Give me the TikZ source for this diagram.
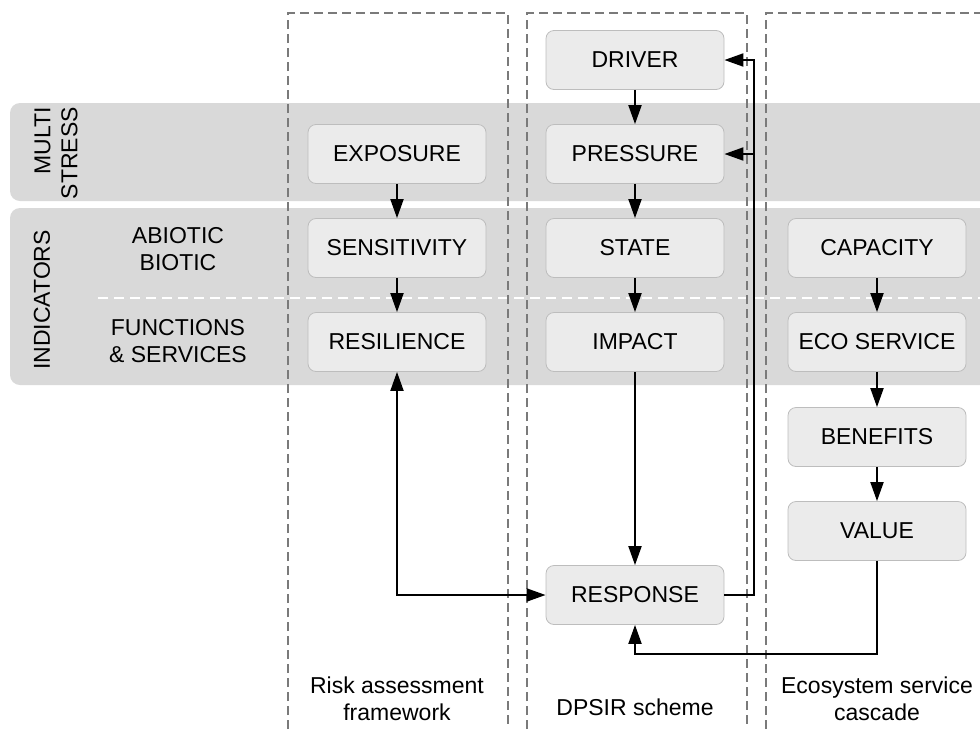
\documentclass[tikz,border=0pt]{standalone}
\usepackage{fontspec}
\setmainfont{Liberation Sans}
\usetikzlibrary{arrows.meta}
\definecolor{bandgray}{HTML}{D9D9D9}
\definecolor{boxgray}{HTML}{EBEBEB}
\definecolor{boxline}{HTML}{BDBDBD}
\definecolor{framegray}{HTML}{7A7A7A}
\begin{document}
\begin{tikzpicture}[x=0.5pt,y=-0.5pt,
    every node/.style={font=\fontsize{11.5}{13.5}\selectfont},
    stagebox/.style={draw=boxline,fill=boxgray,rounded corners=4pt,line width=0.4pt,
        minimum width=89pt,minimum height=29.5pt,inner sep=0pt},
    flow/.style={line width=1pt,-{Triangle[length=9.5pt,width=6.5pt]}},
    frame/.style={draw=framegray,line width=0.6pt,dash pattern=on 4.5pt off 2.5pt},
    band/.style={fill=bandgray,rounded corners=5pt}]
                    \useasboundingbox (0,0) rectangle (980,729);
                    % grey bands
                    \fill [band] (985,103)--(10,103)--(10,201)--(985,201);
                    \fill [band] (985,208)--(10,208)--(10,385)--(985,385);
                    \draw [white,line width=0.8pt,dash pattern=on 5pt off 3pt] (98,298)--(980,298);
                    % column frames
                    \draw [frame] (288,729)--(288,13)--(508,13)--(508,729);
                    \draw [frame] (527,729)--(527,13)--(747,13)--(747,729);
                    \draw [frame] (766,729)--(766,13)--(980,13);
                    % row labels
                    \node (multi) [rotate=90,align=right] at (56,153) {MULTI\\STRESS};
                    \node (indic) [rotate=90] at (42,300) {INDICATORS};
                    \node (abiotic) [align=center] at (178,249) {ABIOTIC\\BIOTIC};
                    \node (funct) [align=center] at (178,341) {FUNCTIONS\\\& SERVICES};
                    % risk assessment
                    \node (exposure) [stagebox] at (397,154) {EXPOSURE};
                    \node (sensitivity) [stagebox] at (397,248) {SENSITIVITY};
                    \node (resilience) [stagebox] at (397,342) {RESILIENCE};
                    % DPSIR
                    \node (driver) [stagebox] at (635,60) {DRIVER};
                    \node (pressure) [stagebox] at (635,154) {PRESSURE};
                    \node (state) [stagebox] at (635,248) {STATE};
                    \node (impact) [stagebox] at (635,342) {IMPACT};
                    \node (response) [stagebox] at (635,595) {RESPONSE};
                    % ecosystem cascade
                    \node (capacity) [stagebox] at (877,248) {CAPACITY};
                    \node (ecoserv) [stagebox] at (877,342) {ECO SERVICE};
                    \node (benefits) [stagebox] at (877,437) {BENEFITS};
                    \node (value) [stagebox] at (877,531) {VALUE};
                    % column captions
                    \node (riskcap) [align=center] at (397,699) {Risk assessment\\framework};
                    \node (dpsircap) at (635,707) {DPSIR scheme};
                    \node (ecocap) [align=center] at (877,699) {Ecosystem service\\cascade};
                    % arrows
                    \draw [flow] (exposure)--(sensitivity);
                    \draw [flow] (sensitivity)--(resilience);
                    \draw [flow] (driver)--(pressure);
                    \draw [flow] (pressure)--(state);
                    \draw [flow] (state)--(impact);
                    \draw [flow] (impact)--(response);
                    \draw [flow] (capacity)--(ecoserv);
                    \draw [flow] (ecoserv)--(benefits);
                    \draw [flow] (benefits)--(value);
                    \coordinate (fbtop) at (754,60);
                    \coordinate (fbbot) at (754,595);
                    \coordinate (fbmid) at (754,154);
                    \draw [flow] (response.east)--(fbbot)--(fbtop)--(driver.east);
                    \draw [flow] (fbmid)--(pressure.east);
                    \draw [flow] (value.south)--++(0,93)-|(response.south);
                    \draw [flow,{Triangle[length=9.5pt,width=6.5pt]}-{Triangle[length=9.5pt,width=6.5pt]}] (resilience.south)|-(response.west);
                \end{tikzpicture}
\end{document}
